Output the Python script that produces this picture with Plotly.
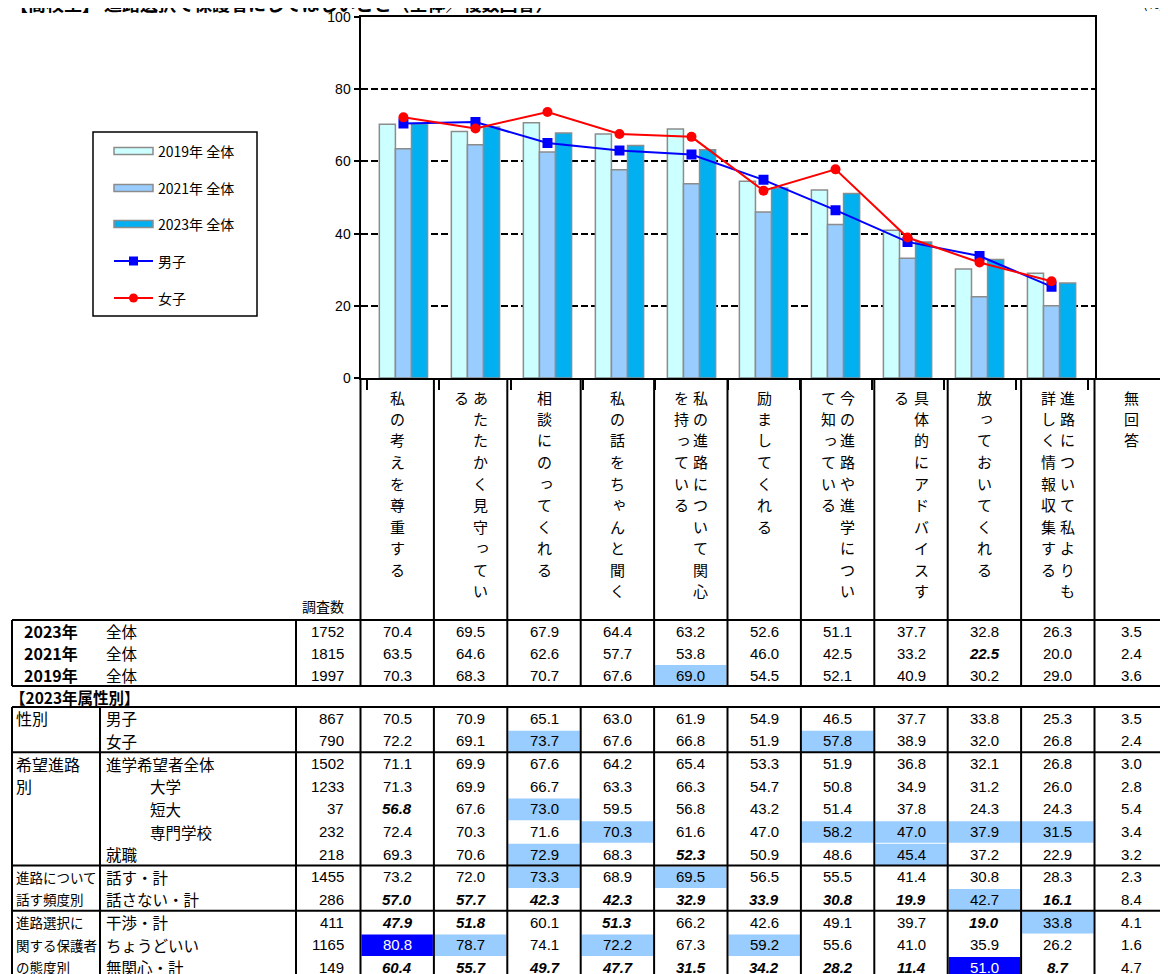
import plotly.graph_objects as go

W, H = 1168, 974
OFF = 8                      # page body margin of the html page
FIG_W, FIG_H = W - OFF, H - OFF

# ---------------- data ----------------
categories = ["私の考えを尊重する", "あたたかく見守っている", "相談にのってくれる", "私の話をちゃんと聞く",
              "私の進路について関心を持っている", "励ましてくれる", "今の進路や進学について知っている",
              "具体的にアドバイスする", "放っておいてくれる", "進路について私よりも詳しく情報収集する"]
# vertical-writing columns (right column first)
label_columns = [["私の考えを尊重する"], ["あたたかく見守ってい", "る"], ["相談にのってくれる"],
                 ["私の話をちゃんと聞く"], ["私の進路について関心", "を持っている"], ["励ましてくれる"],
                 ["今の進路や進学につい", "て知っている"], ["具体的にアドバイスす", "る"],
                 ["放っておいてくれる"], ["進路について私よりも", "詳しく情報収集する"], ["無回答"]]

y2019 = [70.3, 68.3, 70.7, 67.6, 69.0, 54.5, 52.1, 40.9, 30.2, 29.0]
y2021 = [63.5, 64.6, 62.6, 57.7, 53.8, 46.0, 42.5, 33.2, 22.5, 20.0]
y2023 = [70.4, 69.5, 67.9, 64.4, 63.2, 52.6, 51.1, 37.7, 32.8, 26.3]
boys = [70.5, 70.9, 65.1, 63.0, 61.9, 54.9, 46.5, 37.7, 33.8, 25.3]
girls = [72.2, 69.1, 73.7, 67.6, 66.8, 51.9, 57.8, 38.9, 32.0, 26.8]
series_names = ["2019年 全体", "2021年 全体", "2023年 全体", "男子", "女子"]

# table block 1
total_years = ["2023年", "2021年", "2019年"]
total_n = [1752, 1815, 1997]
total_vals = [
    [70.4, 69.5, 67.9, 64.4, 63.2, 52.6, 51.1, 37.7, 32.8, 26.3, 3.5],
    [63.5, 64.6, 62.6, 57.7, 53.8, 46.0, 42.5, 33.2, 22.5, 20.0, 2.4],
    [70.3, 68.3, 70.7, 67.6, 69.0, 54.5, 52.1, 40.9, 30.2, 29.0, 3.6],
]
total_flags = ["...........", "........b..", "....h......"]

# table block 2
group_labels = [["性別"], ["希望進路", "別"], ["進路について", "話す頻度別"], ["進路選択に", "関する保護者", "の態度別"]]
group_rows = [0, 2, 7, 9]
sub_labels = ["男子", "女子", "進学希望者全体", "大学", "短大", "専門学校", "就職",
              "話す・計", "話さない・計", "干渉・計", "ちょうどいい", "無関心・計"]
sub_indent = [False, False, False, True, True, True, False, False, False, False, False, False]
sub_n = [867, 790, 1502, 1233, 37, 232, 218, 1455, 286, 411, 1165, 149]
sub_vals = [
    [70.5, 70.9, 65.1, 63.0, 61.9, 54.9, 46.5, 37.7, 33.8, 25.3, 3.5],
    [72.2, 69.1, 73.7, 67.6, 66.8, 51.9, 57.8, 38.9, 32.0, 26.8, 2.4],
    [71.1, 69.9, 67.6, 64.2, 65.4, 53.3, 51.9, 36.8, 32.1, 26.8, 3.0],
    [71.3, 69.9, 66.7, 63.3, 66.3, 54.7, 50.8, 34.9, 31.2, 26.0, 2.8],
    [56.8, 67.6, 73.0, 59.5, 56.8, 43.2, 51.4, 37.8, 24.3, 24.3, 5.4],
    [72.4, 70.3, 71.6, 70.3, 61.6, 47.0, 58.2, 47.0, 37.9, 31.5, 3.4],
    [69.3, 70.6, 72.9, 68.3, 52.3, 50.9, 48.6, 45.4, 37.2, 22.9, 3.2],
    [73.2, 72.0, 73.3, 68.9, 69.5, 56.5, 55.5, 41.4, 30.8, 28.3, 2.3],
    [57.0, 57.7, 42.3, 42.3, 32.9, 33.9, 30.8, 19.9, 42.7, 16.1, 8.4],
    [47.9, 51.8, 60.1, 51.3, 66.2, 42.6, 49.1, 39.7, 19.0, 33.8, 4.1],
    [80.8, 78.7, 74.1, 72.2, 67.3, 59.2, 55.6, 41.0, 35.9, 26.2, 1.6],
    [60.4, 55.7, 49.7, 47.7, 31.5, 34.2, 28.2, 11.4, 51.0, 8.7, 4.7],
]
sub_flags = ["...........", "..h...h....", "...........", "...........", "b.h........",
             "...h..hhhh.", "..h.b..h...", "..h.h......", "bbbbbbbbhb.", "bb.b....bh.",
             "dh.h.h.....", "bbbbbbbbdb."]

# ---------------- styles / geometry ----------------
FONT = "Noto Sans CJK JP, Noto Sans, sans-serif"
NUMFONT = "Liberation Sans, Arial, sans-serif"
C2019, C2021, C2023 = "#CCFFFF", "#99CCFF", "#00B0F0"
EDGE = "#8C8C8C"
HL, DARK = "#99CCFF", "#0000FF"

X0, COLW = 360.5, 73.4
PLOT_TOP, PLOT_BOT = 17, 378


def px(x):
    return (x - OFF) / FIG_W


def py(y):
    return 1 - (y - OFF) / FIG_H


def bnd(k):
    return X0 + COLW * k


def ccen(k):
    return X0 + COLW * (k + 0.5)


shapes = []
annotations = []


def hline(x0, x1, y, w=2, color="black"):
    shapes.append(dict(type="line", xref="paper", yref="paper", x0=px(x0), x1=px(x1), y0=py(y), y1=py(y),
                       line=dict(color=color, width=w)))


def vline(x, y0, y1, w=2, color="black"):
    shapes.append(dict(type="line", xref="paper", yref="paper", x0=px(x), x1=px(x), y0=py(y0), y1=py(y1),
                       line=dict(color=color, width=w)))


def rect(x0, y0, x1, y1, fill, line_color=None, lw=0, layer="below"):
    shapes.append(dict(type="rect", xref="paper", yref="paper", x0=px(x0), x1=px(x1), y0=py(y0), y1=py(y1),
                       fillcolor=fill, line=dict(color=line_color or fill, width=lw), layer=layer))


def text(x, y, s, size=14, anchor="center", color="black", family=FONT):
    annotations.append(dict(xref="paper", yref="paper", x=px(x), y=py(y), text=s, showarrow=False,
                            xanchor=anchor, yanchor="middle", font=dict(size=size, color=color, family=family)))


# ---------------- chart traces ----------------
fig = go.Figure()
for name, vals, col in zip(series_names[:3], [y2019, y2021, y2023], [C2019, C2021, C2023]):
    fig.add_trace(go.Bar(x=categories, y=vals, name=name, marker=dict(color=col, line=dict(color=EDGE, width=1.5)),
                         showlegend=False))
fig.add_trace(go.Scatter(x=categories, y=boys, name=series_names[3], mode="lines+markers",
                         line=dict(color="#0000FF", width=2), marker=dict(symbol="square", size=10, color="#0000FF"),
                         showlegend=False))
fig.add_trace(go.Scatter(x=categories, y=girls, name=series_names[4], mode="lines+markers",
                         line=dict(color="#FF0000", width=2), marker=dict(symbol="circle", size=10, color="#FF0000"),
                         showlegend=False))

# ---------------- legend (drawn) ----------------
rect(93, 132, 257, 316, "white", "black", 1.5, layer="above")
leg_y = [151, 188, 224, 261, 298]
for yy, col in zip(leg_y[:3], [C2019, C2021, C2023]):
    rect(114, yy - 3.5, 153, yy + 3.5, col, EDGE, 1.5, layer="above")
hline(114, 153, leg_y[3], 2, "#0000FF")
rect(129, leg_y[3] - 4.5, 138, leg_y[3] + 4.5, "#0000FF", "#0000FF", 0, layer="above")
hline(114, 153, leg_y[4], 2, "#FF0000")
shapes.append(dict(type="circle", xref="paper", yref="paper", x0=px(129), x1=px(138), y0=py(leg_y[4] - 4.5),
                   y1=py(leg_y[4] + 4.5), fillcolor="#FF0000", line=dict(color="#FF0000", width=0), layer="above"))
for yy, name in zip(leg_y, series_names):
    text(156, yy, name, 14, "left")

# ---------------- title ----------------
text(8, 3, "<b>【高校生】 進路選択で保護者にしてほしいこと（全体／複数回答）</b>", 18, "left")
text(1166, 3, "(%)", 13, "right")

# ---------------- category header (vertical text) ----------------
SMALL = set("っゃゅょぁぃぅぇぉ")
CH_TOP, CH_STEP = 397, 21.5
for k, cols in enumerate(label_columns):
    cx = ccen(k)
    offs = [0] if len(cols) == 1 else [10, -9.5]
    for s, dx in zip(cols, offs):
        for i, ch in enumerate(s):
            ddx, ddy = (2, -2) if ch in SMALL else (0, 0)
            text(cx + dx + ddx, CH_TOP + CH_STEP * i + ddy, ch, 15, "center")
text(346, 606, "調査数", 14, "right")

# header lines
for k in range(0, 12):
    vline(bnd(k), PLOT_BOT, 620)
hline(bnd(10), W + 2, PLOT_BOT + 1)

# ---------------- table block 1 ----------------
B1_TOP, R1 = 620, 22
B1_BOT = B1_TOP + R1 * 3
LX, GX, NX = 12, 100, 296
for r in range(3):
    yc = B1_TOP + R1 * (r + 0.5)
    for k, (v, f) in enumerate(zip(total_vals[r], total_flags[r])):
        if f in "hd":
            rect(bnd(k) + 1, yc - R1 / 2 + 1, bnd(k + 1) - 1, yc + R1 / 2, HL if f == "h" else DARK)
        s = f"{v:.1f}"
        if f == "b":
            s = f"<b><i>{s}</i></b>"
        text(ccen(k), yc, s, 15, "center", "white" if f == "d" else "black", NUMFONT)
    text(22, yc, f"<b>{total_years[r]}</b>", 16, "left")
    text(104, yc, "全体", 15.5, "left")
    text(346, yc, str(total_n[r]), 15, "right", family=NUMFONT)
hline(LX, W + 2, B1_TOP)
hline(LX, W + 2, B1_BOT)
for x in [LX, NX] + [bnd(k) for k in range(12)]:
    vline(x, B1_TOP, B1_BOT)

text(8, 697, "<b>【2023年属性別】</b>", 15.5, "left")

# ---------------- table block 2 ----------------
B2_TOP, R2 = 707, 22.64
for r in range(12):
    yc = B2_TOP + R2 * (r + 0.5)
    for k, (v, f) in enumerate(zip(sub_vals[r], sub_flags[r])):
        if f in "hd":
            rect(bnd(k) + 1, yc - R2 / 2 + 1, bnd(k + 1) - 1, yc + R2 / 2, HL if f == "h" else DARK)
        s = f"{v:.1f}"
        if f == "b":
            s = f"<b><i>{s}</i></b>"
        text(ccen(k), yc, s, 15, "center", "white" if f == "d" else "black", NUMFONT)
    text(148 if sub_indent[r] else 104, yc, sub_labels[r], 15.5, "left")
    text(346, yc, str(sub_n[r]), 15, "right", family=NUMFONT)
for g, r0 in zip(group_labels, group_rows):
    size = 16 if max(len(s) for s in g) <= 4 else 13.5
    for i, s in enumerate(g):
        text(14, B2_TOP + R2 * (r0 + i + 0.5), s, size, "left")
hline(LX, W + 2, B2_TOP)
for r0 in group_rows[1:]:
    hline(LX, W + 2, B2_TOP + R2 * r0)
for x in [LX, GX, NX] + [bnd(k) for k in range(12)]:
    vline(x, B2_TOP, H + 5)

# ---------------- layout ----------------
fig.update_layout(
    width=FIG_W, height=FIG_H, margin=dict(l=0, r=0, t=0, b=0, pad=0, autoexpand=False),
    paper_bgcolor="white", plot_bgcolor="white",
    barmode="group", bargap=0.33, bargroupgap=0,
    font=dict(family=FONT, color="black"),
    xaxis=dict(domain=[px(X0), px(bnd(10))], type="category", showticklabels=False, automargin=False,
               ticks="outside", tickson="boundaries", ticklen=10, tickwidth=2, tickcolor="black",
               showline=True, linecolor="black", linewidth=2, mirror=True, showgrid=False),
    yaxis=dict(domain=[py(PLOT_BOT), py(PLOT_TOP)], range=[0, 100], tickvals=[0, 20, 40, 60, 80, 100],
               automargin=False,
               ticks="outside", ticklen=5, tickwidth=1.5, tickcolor="black",
               tickfont=dict(size=14, family=NUMFONT, color="black"),
               showline=True, linecolor="black", linewidth=2, mirror=True,
               showgrid=True, gridcolor="black", gridwidth=1.5, griddash="7px,3px", zeroline=False),
    shapes=shapes, annotations=annotations,
)

fig.write_html("out.html")
